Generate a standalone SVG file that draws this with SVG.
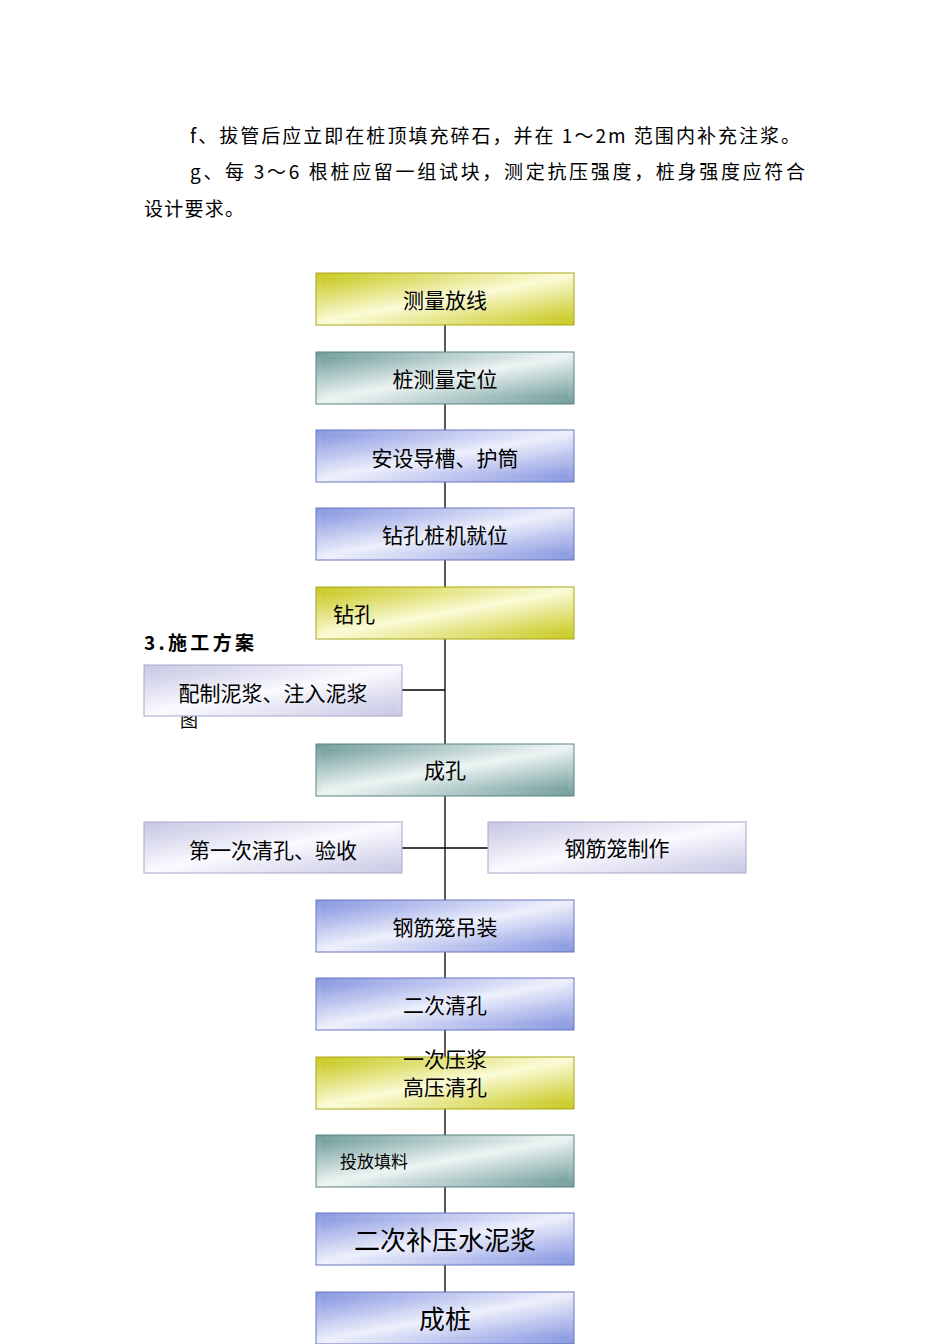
<svg xmlns="http://www.w3.org/2000/svg" width="950" height="1344" viewBox="0 0 950 1344">
<style>
.t{font-family:"Noto Sans CJK SC","Liberation Serif",serif;fill:#000}
.p{font-size:19px}
.b{font-size:21px;text-anchor:middle}
.c{stroke:#000;stroke-width:1.3;fill:none}
</style>
<defs>
<linearGradient id="y" x1="0" y1="0" x2="1" y2="1"><stop offset="0" stop-color="#c8c820"/><stop offset="0.5" stop-color="#fbfbd8"/><stop offset="1" stop-color="#c8c820"/></linearGradient>
<linearGradient id="g" x1="0" y1="0" x2="1" y2="1"><stop offset="0" stop-color="#6f9c9a"/><stop offset="0.5" stop-color="#eef5f4"/><stop offset="1" stop-color="#6f9c9a"/></linearGradient>
<linearGradient id="bl" x1="0" y1="0" x2="1" y2="1"><stop offset="0" stop-color="#8796e0"/><stop offset="0.5" stop-color="#eef0fc"/><stop offset="1" stop-color="#8796e0"/></linearGradient>
<linearGradient id="l" x1="0" y1="0" x2="1" y2="1"><stop offset="0" stop-color="#c8c8e4"/><stop offset="0.5" stop-color="#fafaff"/><stop offset="1" stop-color="#c8c8e4"/></linearGradient>
</defs>
<rect width="950" height="1344" fill="#fff"/>
<text class="t p" x="190" y="143" textLength="610" lengthAdjust="spacing">f、拔管后应立即在桩顶填充碎石，并在 1～2m 范围内补充注浆。</text>
<text class="t p" x="190" y="179" textLength="615" lengthAdjust="spacing">g、每 3～6 根桩应留一组试块，测定抗压强度，桩身强度应符合</text>
<text class="t p" x="144" y="216" textLength="100" lengthAdjust="spacing">设计要求。</text>
<text class="t" x="144" y="650" font-size="19" font-weight="bold" textLength="110" lengthAdjust="spacing">3.施工方案</text>
<text class="t" x="180" y="727" font-size="18">图</text>
<g id="connectors" class="c">
<line x1="445" y1="325" x2="445" y2="1292"/>
<line x1="402" y1="690" x2="445" y2="690"/>
<line x1="402" y1="848" x2="488" y2="848"/>
</g>
<g id="n1"><rect x="316" y="273" width="258" height="52" fill="url(#y)" stroke="#a8a818"/><rect x="322" y="278" width="246" height="42" fill="url(#y)" opacity="0.6"/><text class="t b" x="445" y="308">测量放线</text></g>
<g id="n2"><rect x="316" y="352" width="258" height="52" fill="url(#g)" stroke="#5a8482"/><rect x="322" y="357" width="246" height="42" fill="url(#g)" opacity="0.6"/><text class="t b" x="445" y="387">桩测量定位</text></g>
<g id="n3"><rect x="316" y="430" width="258" height="52" fill="url(#bl)" stroke="#6a78c0"/><rect x="322" y="435" width="246" height="42" fill="url(#bl)" opacity="0.6"/><text class="t b" x="445" y="466">安设导槽、护筒</text></g>
<g id="n4"><rect x="316" y="508" width="258" height="52" fill="url(#bl)" stroke="#6a78c0"/><rect x="322" y="513" width="246" height="42" fill="url(#bl)" opacity="0.6"/><text class="t b" x="445" y="543">钻孔桩机就位</text></g>
<g id="n5"><rect x="316" y="587" width="258" height="52" fill="url(#y)" stroke="#a8a818"/><rect x="322" y="592" width="246" height="42" fill="url(#y)" opacity="0.6"/><text class="t" x="333" y="622" font-size="21">钻孔</text></g>
<g id="n6"><rect x="144" y="665" width="258" height="51" fill="url(#l)" stroke="#a8a8c8"/><rect x="150" y="670" width="246" height="41" fill="url(#l)" opacity="0.6"/><text class="t b" x="273" y="701">配制泥浆、注入泥浆</text></g>
<g id="n7"><rect x="316" y="744" width="258" height="52" fill="url(#g)" stroke="#5a8482"/><rect x="322" y="749" width="246" height="42" fill="url(#g)" opacity="0.6"/><text class="t b" x="445" y="778">成孔</text></g>
<g id="n8"><rect x="144" y="822" width="258" height="51" fill="url(#l)" stroke="#a8a8c8"/><rect x="150" y="827" width="246" height="41" fill="url(#l)" opacity="0.6"/><text class="t b" x="273" y="858">第一次清孔、验收</text></g>
<g id="n9"><rect x="488" y="822" width="258" height="51" fill="url(#l)" stroke="#a8a8c8"/><rect x="494" y="827" width="246" height="41" fill="url(#l)" opacity="0.6"/><text class="t b" x="617" y="856">钢筋笼制作</text></g>
<g id="n10"><rect x="316" y="900" width="258" height="52" fill="url(#bl)" stroke="#6a78c0"/><rect x="322" y="905" width="246" height="42" fill="url(#bl)" opacity="0.6"/><text class="t b" x="445" y="935">钢筋笼吊装</text></g>
<g id="n11"><rect x="316" y="978" width="258" height="52" fill="url(#bl)" stroke="#6a78c0"/><rect x="322" y="983" width="246" height="42" fill="url(#bl)" opacity="0.6"/><text class="t b" x="445" y="1013">二次清孔</text></g>
<g id="n12"><rect x="316" y="1057" width="258" height="52" fill="url(#y)" stroke="#a8a818"/><rect x="322" y="1062" width="246" height="42" fill="url(#y)" opacity="0.6"/><text class="t b" x="445" y="1067">一次压浆</text><text class="t b" x="445" y="1095">高压清孔</text></g>
<g id="n13"><rect x="316" y="1135" width="258" height="52" fill="url(#g)" stroke="#5a8482"/><rect x="322" y="1140" width="246" height="42" fill="url(#g)" opacity="0.6"/><text class="t" x="340" y="1168" font-size="17">投放填料</text></g>
<g id="n14"><rect x="316" y="1213" width="258" height="52" fill="url(#bl)" stroke="#6a78c0"/><rect x="322" y="1218" width="246" height="42" fill="url(#bl)" opacity="0.6"/><text class="t b" x="445" y="1250" style="font-size:26px">二次补压水泥浆</text></g>
<g id="n15"><rect x="316" y="1292" width="258" height="52" fill="url(#bl)" stroke="#6a78c0"/><rect x="322" y="1297" width="246" height="42" fill="url(#bl)" opacity="0.6"/><text class="t b" x="445" y="1329" style="font-size:26px">成桩</text></g>
</svg>
